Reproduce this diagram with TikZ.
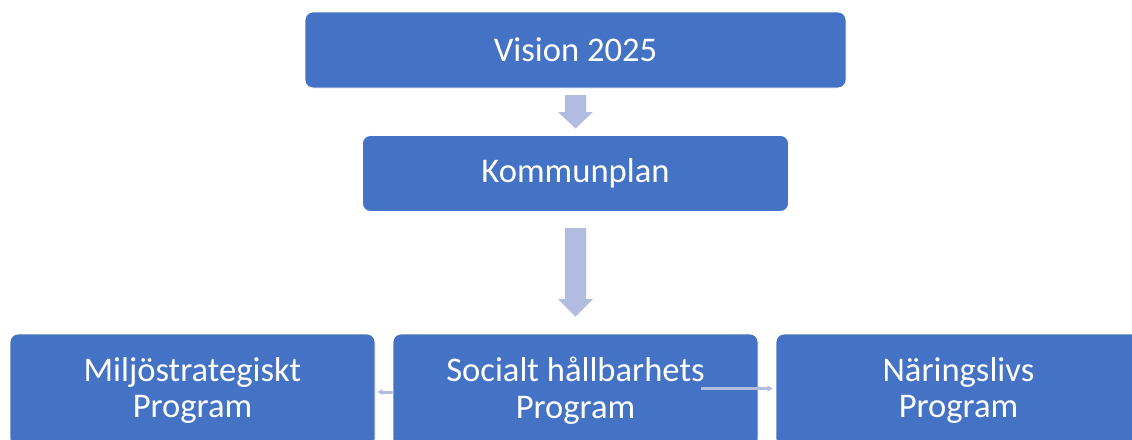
\documentclass[tikz,border=0pt]{standalone}
\usepackage{fontspec}
\setmainfont{Carlito}
\usetikzlibrary{calc,arrows.meta}
\definecolor{boxblue}{HTML}{4472C4}
\definecolor{arrowlav}{RGB}{178,188,224}
\tikzset{
  blk/.style={fill=boxblue, draw=white, line width=0.8pt, rounded corners=8pt, text=white,
    inner sep=0pt, align=center, font=\fontsize{34.6}{36.7}\selectfont},
  blockarrow/.style={fill=arrowlav, draw=none},
  conn/.style={draw=arrowlav, line width=3pt, -{Latex[length=5pt,width=7pt]}, shorten >=0pt},
}
\begin{document}
\begin{tikzpicture}[x=1pt,y=-1pt]
\useasboundingbox (0,0) rectangle (1132,439);
\clip (0,0) rectangle (1132,439);
% top boxes
\node[blk, minimum width=541pt, minimum height=76pt] (vis) at (575.5,50) {Vision 2025};
\node[blk, minimum width=426pt, minimum height=76pt] (kom) at (575.5,173.5) {Kommunplan};
% block arrows
\fill[blockarrow] (565,95) -- (586,95) -- (586,112) -- (593,112) -- (575.5,128.5) -- (558,112) -- (565,112) -- cycle;
\fill[blockarrow] (565,228) -- (586,228) -- (586,299) -- (593,299) -- (575.5,316.7) -- (558,299) -- (565,299) -- cycle;
% bottom boxes
\node[blk, minimum width=365pt, minimum height=113pt] (mil) at (192.5,390.5) {Miljöstrategiskt\\Program};
% left connector (under the middle box)
\draw[conn] ($(mil.east)+(18,1.5)$) -- ($(mil.east)+(2,1.5)$);
\node[blk, minimum width=365pt, minimum height=113pt] (soc) at (575.5,390.5) {Socialt hållbarhets\\Program};
\node[blk, minimum width=365pt, minimum height=113pt] (nar) at (958.5,390.5) {Näringslivs\\Program};
% right connector (over the middle box)
\draw[conn] ($(soc.east)+(-57,-2)$) -- ($(nar.west)+(-3,-2)$);
\end{tikzpicture}
\end{document}
